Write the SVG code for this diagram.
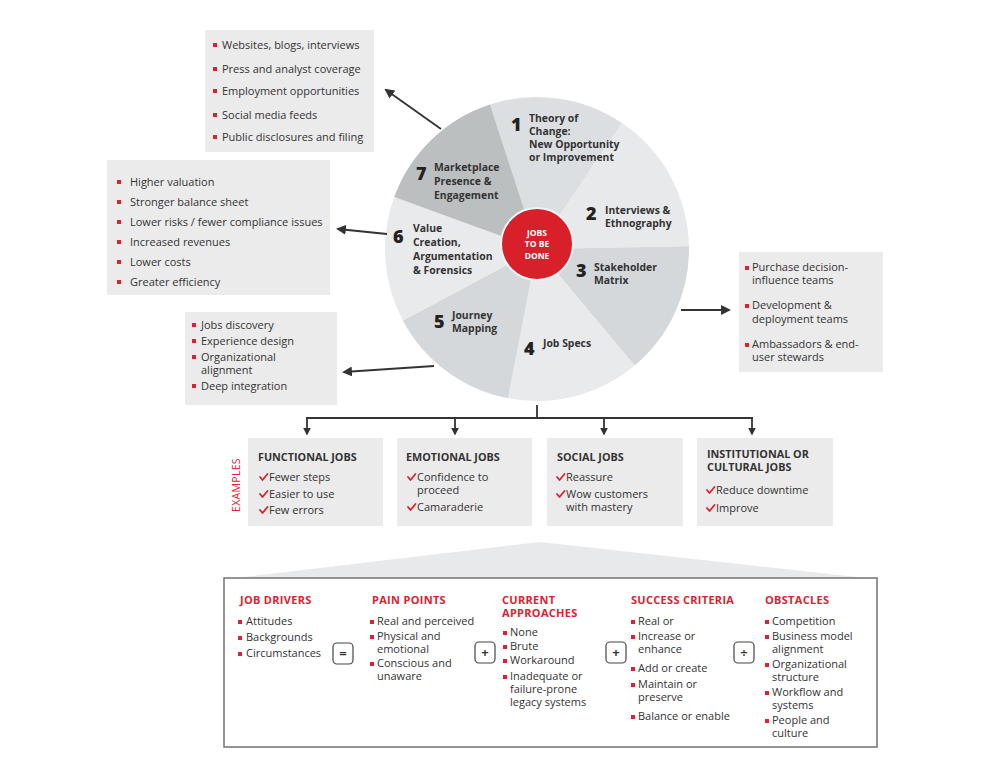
<svg xmlns="http://www.w3.org/2000/svg" width="1000" height="766" viewBox="0 0 1000 766">
<defs>
<marker id="ah" viewBox="0 0 10 10" refX="8" refY="5" markerWidth="5.5" markerHeight="5.5" orient="auto" markerUnits="strokeWidth"><path d="M0,0 L10,5 L0,10 Z" fill="#333"/></marker>
<marker id="ahs" viewBox="0 0 10 10" refX="8" refY="5" markerWidth="4.5" markerHeight="4.5" orient="auto" markerUnits="strokeWidth"><path d="M0,0 L10,5 L0,10 Z" fill="#333"/></marker>
<style>
text{font-family:"Open Sans",Lato,"Liberation Sans",sans-serif;fill:#333}
.it{font-size:11px}
.lb{font-size:10.4px;font-weight:bold;fill:#333}
.num{font-size:18px;font-weight:800;fill:#222}
.hd{font-size:10.8px;font-weight:bold;fill:#333}
.rh{font-size:11px;font-weight:bold;fill:#e0202e;letter-spacing:0.3px}
.box{fill:#ebebeb}
.bul{fill:#e0202e}
.ck{fill:none;stroke:#e0202e;stroke-width:1.8;stroke-linecap:round;stroke-linejoin:round}
.arr{stroke:#333;stroke-width:1.8;fill:none}
.op{fill:#fff;stroke:#444;stroke-width:1.2}
.ops{font-size:13px;font-weight:bold;fill:#333}
</style>
</defs>
<rect width="1000" height="766" fill="#fff"/>

<g id="wheel">
<path d="M537,249 L490.0,104.4 A152,152 0 0 1 622.0,123.0 Z" fill="#dcdfe1"/>
<path d="M537,249 L622.0,123.0 A152,152 0 0 1 689.0,246.3 Z" fill="#e8e9ea"/>
<path d="M537,249 L689.0,246.3 A152,152 0 0 1 634.7,365.4 Z" fill="#d4d8db"/>
<path d="M537,249 L634.7,365.4 A152,152 0 0 1 508.0,398.2 Z" fill="#e9eaeb"/>
<path d="M537,249 L508.0,398.2 A152,152 0 0 1 402.8,320.4 Z" fill="#d5d8da"/>
<path d="M537,249 L402.8,320.4 A152,152 0 0 1 394.2,197.0 Z" fill="#e9eaeb"/>
<path d="M537,249 L394.2,197.0 A152,152 0 0 1 490.0,104.4 Z" fill="#bcbfc0"/>
</g>

<g id="seg1"><text class="num" x="511" y="131">1</text>
<text class="lb" x="529" y="122">Theory of</text><text class="lb" x="529" y="135">Change:</text><text class="lb" x="529" y="148">New Opportunity</text><text class="lb" x="529" y="161">or Improvement</text></g>
<g id="seg2"><text class="num" x="586" y="220">2</text>
<text class="lb" x="605" y="214">Interviews &amp;</text><text class="lb" x="605" y="227">Ethnography</text></g>
<g id="seg3"><text class="num" x="576" y="277">3</text>
<text class="lb" x="594" y="271">Stakeholder</text><text class="lb" x="594" y="284">Matrix</text></g>
<g id="seg4"><text class="num" x="524" y="355">4</text>
<text class="lb" x="543" y="347">Job Specs</text></g>
<g id="seg5"><text class="num" x="434" y="328">5</text>
<text class="lb" x="452" y="319">Journey</text><text class="lb" x="452" y="332">Mapping</text></g>
<g id="seg6"><text class="num" x="393" y="243">6</text>
<text class="lb" x="413" y="232">Value</text><text class="lb" x="413" y="246">Creation,</text><text class="lb" x="413" y="260">Argumentation</text><text class="lb" x="413" y="274">&amp; Forensics</text></g>
<g id="seg7"><text class="num" x="416" y="180">7</text>
<text class="lb" x="434" y="171">Marketplace</text><text class="lb" x="434" y="185">Presence &amp;</text><text class="lb" x="434" y="199">Engagement</text></g>

<g id="core">
<circle cx="537" cy="244" r="36" fill="#d7202a" stroke="#f2f4f4" stroke-width="2"/>
<text x="537" y="236" text-anchor="middle" style="font-size:8.5px;font-weight:bold;fill:#fff">JOBS</text>
<text x="537" y="247" text-anchor="middle" style="font-size:8.5px;font-weight:bold;fill:#fff">TO BE</text>
<text x="537" y="259" text-anchor="middle" style="font-size:8.5px;font-weight:bold;fill:#fff">DONE</text>
</g>

<g id="boxPresence">
<rect class="box" x="205" y="30" width="169" height="122"/>
<rect class="bul" x="213" y="43" width="4" height="4"/><text class="it" x="222" y="49">Websites, blogs, interviews</text>
<rect class="bul" x="213" y="67" width="4" height="4"/><text class="it" x="222" y="73">Press and analyst coverage</text>
<rect class="bul" x="213" y="89" width="4" height="4"/><text class="it" x="222" y="95">Employment opportunities</text>
<rect class="bul" x="213" y="113" width="4" height="4"/><text class="it" x="222" y="119">Social media feeds</text>
<rect class="bul" x="213" y="135" width="4" height="4"/><text class="it" x="222" y="141">Public disclosures and filing</text>
</g>

<g id="boxValue">
<rect class="box" x="107" y="160" width="223" height="135"/>
<rect class="bul" x="117" y="180" width="4" height="4"/><text class="it" x="130" y="186">Higher valuation</text>
<rect class="bul" x="117" y="200" width="4" height="4"/><text class="it" x="130" y="206">Stronger balance sheet</text>
<rect class="bul" x="117" y="220" width="4" height="4"/><text class="it" x="130" y="226">Lower risks / fewer compliance issues</text>
<rect class="bul" x="117" y="240" width="4" height="4"/><text class="it" x="130" y="246">Increased revenues</text>
<rect class="bul" x="117" y="260" width="4" height="4"/><text class="it" x="130" y="266"> Lower costs</text>
<rect class="bul" x="117" y="280" width="4" height="4"/><text class="it" x="130" y="286">Greater efficiency</text>
</g>

<g id="boxJourney">
<rect class="box" x="185" y="312" width="152" height="93"/>
<rect class="bul" x="192" y="323" width="4" height="4"/><text class="it" x="201" y="329">Jobs discovery</text>
<rect class="bul" x="192" y="339" width="4" height="4"/><text class="it" x="201" y="345">Experience design</text>
<rect class="bul" x="192" y="355" width="4" height="4"/><text class="it" x="201" y="361">Organizational</text><text class="it" x="201" y="374">alignment</text>
<rect class="bul" x="192" y="384" width="4" height="4"/><text class="it" x="201" y="390">Deep integration</text>
</g>

<g id="boxStakeholder">
<rect class="box" x="739" y="252" width="144" height="120"/>
<rect class="bul" x="745" y="266" width="4" height="4"/><text class="it" x="752" y="271">Purchase decision-</text><text class="it" x="752" y="284">influence teams</text>
<rect class="bul" x="745" y="304" width="4" height="4"/><text class="it" x="752" y="309">Development &amp;</text><text class="it" x="752" y="323">deployment teams</text>
<rect class="bul" x="745" y="343" width="4" height="4"/><text class="it" x="752" y="348">Ambassadors &amp; end-</text><text class="it" x="752" y="361">user stewards</text>
</g>

<g id="connectors">
<line class="arr" x1="441" y1="129" x2="386" y2="90" marker-end="url(#ah)"/>
<line class="arr" x1="387" y1="234" x2="338" y2="229" marker-end="url(#ah)"/>
<line class="arr" x1="434" y1="366" x2="344" y2="372" marker-end="url(#ah)"/>
<line class="arr" x1="681" y1="310" x2="729" y2="310" marker-end="url(#ah)"/>
<line class="arr" x1="537" y1="405" x2="537" y2="418"/>
<line class="arr" x1="306" y1="418" x2="753" y2="418"/>
<line class="arr" x1="307" y1="418" x2="307" y2="434" marker-end="url(#ahs)"/>
<line class="arr" x1="455" y1="418" x2="455" y2="434" marker-end="url(#ahs)"/>
<line class="arr" x1="604" y1="418" x2="604" y2="434" marker-end="url(#ahs)"/>
<line class="arr" x1="752" y1="418" x2="752" y2="434" marker-end="url(#ahs)"/>
</g>

<text transform="rotate(-90 240 485)" x="240" y="485" text-anchor="middle" style="font-size:10.5px;fill:#e0202e;letter-spacing:0.3px">EXAMPLES</text>

<g id="functional">
<rect class="box" x="248" y="438" width="135" height="88"/>
<text class="hd" x="258" y="461">FUNCTIONAL JOBS</text>
<path class="ck" d="M260,477 l2.5,3 l5,-6"/><text class="it" x="269" y="481">Fewer steps</text>
<path class="ck" d="M260,494 l2.5,3 l5,-6"/><text class="it" x="269" y="498">Easier to use</text>
<path class="ck" d="M260,510 l2.5,3 l5,-6"/><text class="it" x="269" y="514">Few errors</text>
</g>
<g id="emotional">
<rect class="box" x="397" y="438" width="135" height="88"/>
<text class="hd" x="406" y="461">EMOTIONAL JOBS</text>
<path class="ck" d="M408,477 l2.5,3 l5,-6"/><text class="it" x="417" y="481">Confidence to</text><text class="it" x="417" y="494">proceed</text>
<path class="ck" d="M408,507 l2.5,3 l5,-6"/><text class="it" x="417" y="511">Camaraderie</text>
</g>
<g id="social">
<rect class="box" x="547" y="438" width="136" height="88"/>
<text class="hd" x="557" y="461">SOCIAL JOBS</text>
<path class="ck" d="M557,477 l2.5,3 l5,-6"/><text class="it" x="566" y="481">Reassure</text>
<path class="ck" d="M557,494 l2.5,3 l5,-6"/><text class="it" x="566" y="498">Wow customers</text><text class="it" x="566" y="511">with mastery</text>
</g>
<g id="institutional">
<rect class="box" x="697" y="438" width="136" height="88"/>
<text class="hd" x="707" y="458">INSTITUTIONAL OR</text><text class="hd" x="707" y="471">CULTURAL JOBS</text>
<path class="ck" d="M707,490 l2.5,3 l5,-6"/><text class="it" x="716" y="494">Reduce downtime</text>
<path class="ck" d="M707,508 l2.5,3 l5,-6"/><text class="it" x="716" y="512">Improve</text>
</g>

<polygon points="540,542 236,578 866,578" fill="#e8e9ea"/>

<g id="detail">
<rect x="224" y="578" width="653" height="169" fill="#fff" stroke="#7a7a7a" stroke-width="1.6"/>
</g>
<g id="drivers">
<text class="rh" x="240" y="604">JOB DRIVERS</text>
<rect class="bul" x="238" y="620" width="4" height="4"/><text class="it" x="246" y="625">Attitudes</text>
<rect class="bul" x="238" y="636" width="4" height="4"/><text class="it" x="246" y="641">Backgrounds</text>
<rect class="bul" x="238" y="652" width="4" height="4"/><text class="it" x="246" y="657">Circumstances</text>
</g>
<g id="op1"><rect class="op" x="333" y="643" width="20" height="21" rx="4"/><text class="ops" x="343" y="658" text-anchor="middle">=</text></g>
<g id="pain">
<text class="rh" x="372" y="604">PAIN POINTS</text>
<rect class="bul" x="370" y="620" width="4" height="4"/><text class="it" x="377" y="625">Real and perceived</text>
<rect class="bul" x="370" y="635" width="4" height="4"/><text class="it" x="377" y="640">Physical and</text><text class="it" x="377" y="653">emotional</text>
<rect class="bul" x="370" y="662" width="4" height="4"/><text class="it" x="377" y="667">Conscious and</text><text class="it" x="377" y="680">unaware</text>
</g>
<g id="op2"><rect class="op" x="475" y="642" width="20" height="21" rx="4"/><text class="ops" x="485" y="657" text-anchor="middle">+</text></g>
<g id="current">
<text class="rh" x="502" y="604">CURRENT</text><text class="rh" x="502" y="617">APPROACHES</text>
<rect class="bul" x="503" y="631" width="4" height="4"/><text class="it" x="510" y="636">None</text>
<rect class="bul" x="503" y="645" width="4" height="4"/><text class="it" x="510" y="650">Brute</text>
<rect class="bul" x="503" y="659" width="4" height="4"/><text class="it" x="510" y="664">Workaround</text>
<rect class="bul" x="503" y="675" width="4" height="4"/><text class="it" x="510" y="680">Inadequate or</text><text class="it" x="510" y="693">failure-prone</text><text class="it" x="510" y="706">legacy systems</text>
</g>
<g id="op3"><rect class="op" x="606" y="642" width="20" height="21" rx="4"/><text class="ops" x="616" y="657" text-anchor="middle">+</text></g>
<g id="success">
<text class="rh" x="631" y="604">SUCCESS CRITERIA</text>
<rect class="bul" x="631" y="620" width="4" height="4"/><text class="it" x="638" y="625">Real or</text>
<rect class="bul" x="631" y="635" width="4" height="4"/><text class="it" x="638" y="640">Increase or</text><text class="it" x="638" y="653">enhance</text>
<rect class="bul" x="631" y="667" width="4" height="4"/><text class="it" x="638" y="672">Add or create</text>
<rect class="bul" x="631" y="683" width="4" height="4"/><text class="it" x="638" y="688">Maintain or</text><text class="it" x="638" y="701">preserve</text>
<rect class="bul" x="631" y="715" width="4" height="4"/><text class="it" x="638" y="720">Balance or enable</text>
</g>
<g id="op4"><rect class="op" x="734" y="642" width="20" height="21" rx="4"/><text class="ops" x="744" y="657" text-anchor="middle">÷</text></g>
<g id="obstacles">
<text class="rh" x="765" y="604">OBSTACLES</text>
<rect class="bul" x="765" y="620" width="4" height="4"/><text class="it" x="772" y="625">Competition</text>
<rect class="bul" x="765" y="635" width="4" height="4"/><text class="it" x="772" y="640">Business model</text><text class="it" x="772" y="653">alignment</text>
<rect class="bul" x="765" y="663" width="4" height="4"/><text class="it" x="772" y="668">Organizational</text><text class="it" x="772" y="681">structure</text>
<rect class="bul" x="765" y="691" width="4" height="4"/><text class="it" x="772" y="696">Workflow and</text><text class="it" x="772" y="709">systems</text>
<rect class="bul" x="765" y="719" width="4" height="4"/><text class="it" x="772" y="724">People and</text><text class="it" x="772" y="737">culture</text>
</g>
</svg>
